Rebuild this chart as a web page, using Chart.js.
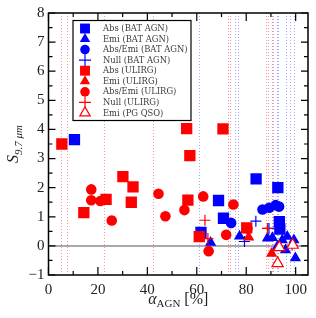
<!DOCTYPE html>
<html>
<head>
<meta charset="utf-8">
<script src="https://cdn.jsdelivr.net/npm/chart.js@4/dist/chart.umd.min.js"></script>
<style>
  html, body { margin: 0; padding: 0; background: #fff; }
  #wrap { width: 316px; height: 318px; }
</style>
</head>
<body>
<div id="wrap"><canvas id="c"></canvas></div>
<script>
// values: [alpha_AGN %, S_9.7um]
var absBat = [[10.5,3.65],[84,2.3],[92.8,2.0],[68.8,1.56],[70.8,0.95],[61.7,0.46],[93.4,0.83],[93.6,0.58]];
var emiBat = [[65.6,0.12],[77.3,0.33],[88.6,0.26],[90.6,0.28],[92.6,-0.02],[94.6,0.2],[96.6,0.32],[95.9,-0.14],[99.3,0.2],[99.9,-0.42]];
var absEmiBat = [[73.9,0.79],[86.6,1.25],[89.3,1.31],[91.9,1.4],[93.3,1.35]];
var nullBat = [[83.9,0.85],[79.3,0.15],[89.2,0.6]];
var absUlirg = [[5.4,3.5],[55.9,4.03],[70.6,4.02],[57.2,3.1],[14.3,1.14],[30.1,2.38],[34.2,2.03],[33.5,1.5],[23.3,1.6],[56.4,1.57],[61,0.32],[80.2,0.62]];
var emiUlirg = [[81,0.3],[90.3,-0.26]];
var absEmiUlirg = [[17.3,1.94],[17.3,1.57],[21,1.54],[25.6,0.87],[44.5,1.79],[47.3,1.02],[55,1.23],[62.6,1.7],[74.8,1.42],[71.9,0.38],[64.8,-0.18],[80.5,0.6]];
var nullUlirg = [[63.3,0.88],[88.6,0.6],[98.6,0.03],[64.5,0.25]];
var emiPg = [[92.7,-0.6],[93.4,-0.05],[98.8,0.03]];

// dotted vertical lines
var redLines = [4.9, 7.3, 22.6, 42.2, 72.6, 73.3, 87.9, 88.9, 91.0];
var blueLines = [60.9, 75.5, 76.6, 90.3, 92.3, 92.9, 95.9, 97.9, 99.3];

var xMajor = [0, 20, 40, 60, 80, 100];
var xMinor = [10, 30, 50, 70, 90];
var yMajor = [-1, 0, 1, 2, 3, 4, 5, 6, 7, 8];
var yMinor = [-0.5, 0.5, 1.5, 2.5, 3.5, 4.5, 5.5, 6.5, 7.5];

var labels = ['Abs (BAT AGN)', 'Emi (BAT AGN)', 'Abs/Emi (BAT AGN)', 'Null (BAT AGN)',
  'Abs (ULIRG)', 'Emi (ULIRG)', 'Abs/Emi (ULIRG)', 'Null (ULIRG)', 'Emi (PG QSO)'];

var BLUE = '#0000ff', RED = '#ff0000';
var serif = '"Liberation Serif", "DejaVu Serif", serif';

function pts(a) { return a.map(function (p) { return {x: p[0], y: p[1]}; }); }

function ds(i, data, color, style, r, open) {
  return {
    label: labels[i],
    data: pts(data),
    pointStyle: style,
    pointRadius: r,
    pointHoverRadius: r,
    backgroundColor: open ? '#ffffff' : color,
    borderColor: color,
    borderWidth: (style == 'cross' || open) ? 1.2 : 0,
    order: 20 - i
  };
}

var datasets = [
  ds(0, absBat, BLUE, 'rect', 8),
  ds(1, emiBat, BLUE, 'triangle', 6.5),
  ds(2, absEmiBat, BLUE, 'circle', 5.3),
  ds(3, nullBat, BLUE, 'cross', 5.5),
  ds(4, absUlirg, RED, 'rect', 8),
  ds(5, emiUlirg, RED, 'triangle', 6.5),
  ds(6, absEmiUlirg, RED, 'circle', 5.3),
  ds(7, nullUlirg, RED, 'cross', 5.5),
  ds(8, emiPg, RED, 'triangle', 6.5, true)
];

var backPlugin = {
  id: 'back',
  beforeDatasetsDraw: function (chart) {
    var ctx = chart.ctx, a = chart.chartArea;
    var xs = chart.scales.x, ys = chart.scales.y;
    ctx.save();
    ctx.lineWidth = 1;
    ctx.setLineDash([1, 2]);
    redLines.forEach(function (v) {
      var px = Math.round(xs.getPixelForValue(v)) + 0.5;
      ctx.strokeStyle = 'rgba(255,0,0,0.4)';
      ctx.beginPath(); ctx.moveTo(px, a.top); ctx.lineTo(px, a.bottom); ctx.stroke();
    });
    blueLines.forEach(function (v) {
      var px = Math.round(xs.getPixelForValue(v)) + 0.5;
      ctx.strokeStyle = 'rgba(0,0,255,0.35)';
      ctx.beginPath(); ctx.moveTo(px, a.top); ctx.lineTo(px, a.bottom); ctx.stroke();
    });
    ctx.setLineDash([]);
    var y0 = ys.getPixelForValue(0);
    ctx.strokeStyle = '#8c8c8c';
    ctx.lineWidth = 1.5;
    ctx.beginPath(); ctx.moveTo(a.left, y0); ctx.lineTo(a.right, y0); ctx.stroke();
    ctx.restore();
  },
  afterDatasetsDraw: function (chart) {
    var ctx = chart.ctx, a = chart.chartArea;
    var xs = chart.scales.x, ys = chart.scales.y;
    ctx.save();
    ctx.strokeStyle = '#000';
    ctx.lineWidth = 1.5;
    ctx.strokeRect(a.left, a.top, a.right - a.left, a.bottom - a.top);
    ctx.lineWidth = 1.2;
    ctx.beginPath();
    function xt(v, len) {
      var px = xs.getPixelForValue(v);
      ctx.moveTo(px, a.bottom); ctx.lineTo(px, a.bottom - len);
      ctx.moveTo(px, a.top); ctx.lineTo(px, a.top + len);
    }
    function yt(v, len) {
      var py = ys.getPixelForValue(v);
      ctx.moveTo(a.left, py); ctx.lineTo(a.left + len, py);
      ctx.moveTo(a.right, py); ctx.lineTo(a.right - len, py);
    }
    xMajor.forEach(function (v) { xt(v, 8); });
    xMinor.forEach(function (v) { xt(v, 4); });
    yMajor.forEach(function (v) { yt(v, 7); });
    yMinor.forEach(function (v) { yt(v, 4); });
    ctx.stroke();

    // axis titles
    ctx.fillStyle = '#222';
    ctx.textBaseline = 'alphabetic';
    var cx = (a.left + a.right) / 2;
    ctx.font = 'italic 16px ' + serif;
    var w1 = ctx.measureText('\u03b1').width;
    ctx.font = '11px ' + serif;
    var w2 = ctx.measureText('AGN').width;
    ctx.font = '16px ' + serif;
    var w3 = ctx.measureText(' [%]').width;
    var sx = cx - (w1 + w2 + w3) / 2;
    ctx.font = 'italic 16px ' + serif;
    ctx.fillText('\u03b1', sx, 304);
    ctx.font = '11px ' + serif;
    ctx.fillText('AGN', sx + w1, 307);
    ctx.font = '16px ' + serif;
    ctx.fillText(' [%]', sx + w1 + w2, 304);

    ctx.save();
    var cy = (a.top + a.bottom) / 2;
    ctx.translate(18, cy);
    ctx.rotate(-Math.PI / 2);
    ctx.font = 'italic 16px ' + serif;
    var s1 = ctx.measureText('S').width;
    ctx.font = 'italic 11px ' + serif;
    var s2 = ctx.measureText('9.7 \u03bcm').width;
    ctx.font = 'italic 16px ' + serif;
    ctx.fillText('S', -(s1 + s2) / 2, 0);
    ctx.font = 'italic 11px ' + serif;
    ctx.fillText('9.7 \u03bcm', -(s1 + s2) / 2 + s1, 3.5);
    ctx.restore();
    ctx.restore();
  },
  afterDraw: function (chart) {
    var ctx = chart.ctx;
    var bx = 73, by = 20.5, bw = 118, bh = 100;
    ctx.save();
    ctx.fillStyle = '#fff';
    ctx.fillRect(bx, by, bw, bh);
    ctx.strokeStyle = '#000';
    ctx.lineWidth = 1.2;
    ctx.strokeRect(bx, by, bw, bh);
    chart.data.datasets.forEach(function (d, i) {
      var y = by + 8 + i * 10.55;
      ctx.fillStyle = d.backgroundColor;
      ctx.strokeStyle = d.borderColor;
      ctx.lineWidth = d.borderWidth || 1;
      Chart.helpers.drawPoint(ctx, {
        pointStyle: d.pointStyle,
        radius: d.pointStyle == 'rect' ? 7 : (d.pointStyle == 'circle' ? 4.8 : 6),
        rotation: 0,
        borderWidth: d.borderWidth
      }, 85, y);
      ctx.fillStyle = '#3a3a3a';
      ctx.font = '8.4px "DejaVu Serif", serif';
      ctx.textBaseline = 'middle';
      ctx.fillText(d.label, 103, y + 0.5);
    });
    ctx.restore();
  }
};

new Chart(document.getElementById('c'), {
  type: 'scatter',
  data: { datasets: datasets },
  options: {
    responsive: true,
    maintainAspectRatio: false,
    animation: false,
    layout: { padding: { top: 13, right: 4, left: 0, bottom: 0 } },
    plugins: { legend: { display: false }, tooltip: { enabled: false } },
    scales: {
      x: {
        type: 'linear', min: 0, max: 105,
        grid: { display: false, drawTicks: false },
        border: { display: false },
        ticks: {
          stepSize: 20, includeBounds: false, padding: 6, maxRotation: 0,
          color: '#222', font: { family: serif, size: 15 }
        },
        afterFit: function (s) { s.height = 43; }
      },
      y: {
        type: 'linear', min: -1, max: 8,
        grid: { display: false, drawTicks: false },
        border: { display: false },
        ticks: {
          stepSize: 1, padding: 4, color: '#222', font: { family: serif, size: 15 },
          callback: function (v) { return String(v).replace('-', '\u2212'); }
        },
        afterFit: function (s) { s.width = 48.5; }
      }
    }
  },
  plugins: [backPlugin]
});
</script>
</body>
</html>
